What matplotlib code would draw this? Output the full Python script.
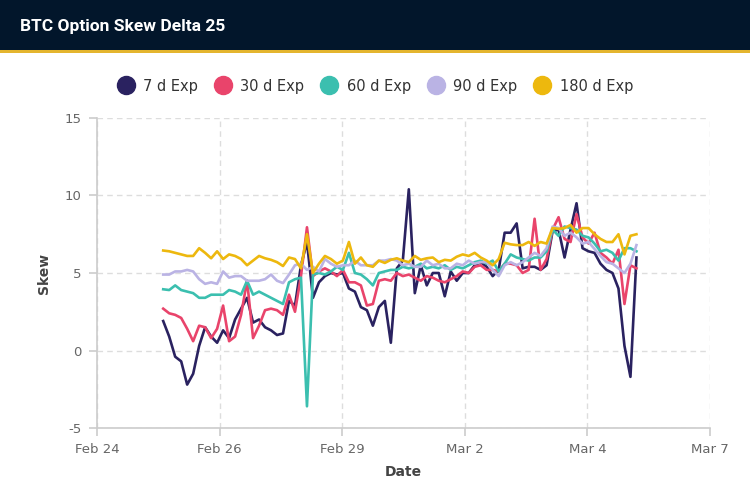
import numpy as np
import matplotlib
matplotlib.use("Agg")
import matplotlib.pyplot as plt
from matplotlib.lines import Line2D
from matplotlib.patches import Rectangle

plt.rcParams["axes.unicode_minus"] = False

# ---------------- data ----------------
tick_labels = ["Feb 24", "Feb 26", "Feb 29", "Mar 2", "Mar 4", "Mar 7"]
series_names = ["7 d Exp", "30 d Exp", "60 d Exp", "90 d Exp", "180 d Exp"]

# sample positions along the date axis (in tick-interval units, Feb 24 = 0)
t_start, t_end, n_samples = 0.54, 4.40, 80

skew_7d = [1.9, 0.9, -0.4, -0.7, -2.2, -1.5, 0.3, 1.5, 0.9, 0.5,
           1.3, 0.8, 2.0, 2.7, 3.4, 1.8, 2.0, 1.5, 1.3, 1.0,
           1.1, 3.2, 2.9, 5.5, 7.0, 3.4, 4.4, 4.8, 5.0, 4.9,
           5.0, 4.0, 3.8, 2.8, 2.6, 1.6, 2.8, 3.2, 0.5, 5.3,
           5.8, 10.4, 3.7, 5.5, 4.2, 5.0, 5.0, 3.5, 5.1, 4.5,
           5.0, 5.0, 5.5, 5.7, 5.4, 4.8, 5.2, 7.6, 7.6, 8.2,
           5.3, 5.4, 5.4, 5.2, 5.5, 7.7, 7.8, 6.0, 7.8, 9.5,
           6.6, 6.4, 6.3, 5.6, 5.2, 5.0, 4.0, 0.3, -1.7, 6.0]

skew_30d = [2.7, 2.4, 2.3, 2.1, 1.4, 0.6, 1.6, 1.5, 0.8, 1.4,
            2.9, 0.6, 0.9, 2.3, 4.5, 0.8, 1.6, 2.6, 2.7, 2.6,
            2.3, 3.6, 2.5, 4.8, 7.95, 4.8, 5.1, 5.3, 5.1, 4.8,
            5.2, 4.4, 4.4, 4.2, 2.9, 3.0, 4.5, 4.6, 4.5, 5.0,
            4.8, 4.9, 4.7, 4.5, 4.8, 4.7, 4.5, 4.4, 4.6, 4.8,
            5.1, 5.0, 5.4, 5.5, 5.2, 5.2, 5.1, 5.6, 5.6, 5.5,
            5.0, 5.2, 8.5, 5.2, 5.9, 7.8, 8.6, 7.2, 7.0, 8.8,
            7.3, 6.9, 7.6, 6.3, 6.0, 5.6, 6.5, 3.0, 5.5, 5.3]

skew_60d = [3.95, 3.9, 4.2, 3.9, 3.8, 3.7, 3.4, 3.4, 3.6, 3.6,
            3.6, 3.9, 3.8, 3.6, 4.5, 3.6, 3.8, 3.6, 3.4, 3.2,
            3.0, 4.4, 4.6, 4.7, -3.6, 4.9, 5.0, 4.9, 5.1, 5.4,
            5.2, 6.3, 5.0, 4.9, 4.6, 4.2, 5.0, 5.1, 5.2, 5.2,
            5.4, 5.3, 5.4, 5.6, 5.3, 5.4, 5.3, 5.5, 5.2, 5.4,
            5.3, 5.5, 5.7, 5.8, 5.6, 5.8, 5.1, 5.6, 6.2, 6.0,
            5.9, 5.8, 6.0, 6.0, 6.4, 7.8, 7.4, 8.0, 7.9, 7.8,
            7.4, 7.3, 6.9, 6.4, 6.5, 6.3, 5.8, 6.6, 6.6, 6.4]

skew_90d = [4.9, 4.9, 5.1, 5.1, 5.2, 5.1, 4.6, 4.3, 4.4, 4.3,
            5.1, 4.7, 4.8, 4.8, 4.5, 4.5, 4.5, 4.6, 4.9, 4.5,
            4.35, 4.9, 5.5, 5.6, 5.2, 5.4, 5.1, 5.9, 5.6, 5.4,
            5.5, 5.5, 5.8, 5.5, 5.5, 5.5, 5.8, 5.8, 5.9, 5.8,
            5.5, 5.6, 5.4, 5.4, 5.8, 5.5, 5.6, 5.3, 5.3, 5.6,
            5.5, 5.8, 5.6, 5.7, 5.7, 5.2, 4.8, 5.5, 5.7, 5.5,
            5.7, 6.0, 6.3, 6.1, 6.6, 8.0, 7.9, 7.4, 7.6, 7.3,
            6.9, 7.0, 6.55, 6.1, 5.7, 5.6, 5.3, 5.0, 5.6, 6.8]

skew_180d = [6.45, 6.4, 6.3, 6.2, 6.1, 6.1, 6.6, 6.3, 5.95, 6.4,
             5.9, 6.2, 6.1, 5.9, 5.5, 5.8, 6.1, 5.95, 5.85, 5.7,
             5.45, 6.0, 5.9, 5.3, 7.5, 5.0, 5.6, 6.1, 5.9, 5.6,
             5.8, 7.0, 5.6, 6.0, 5.5, 5.4, 5.8, 5.65, 5.85, 5.95,
             5.8, 5.7, 6.1, 5.85, 5.95, 6.0, 5.7, 5.85, 5.8, 6.05,
             6.2, 6.1, 6.3, 6.0, 5.8, 5.5, 5.9, 6.95, 6.85, 6.8,
             6.8, 7.0, 6.75, 7.0, 6.9, 7.9, 7.85, 7.9, 8.1, 7.6,
             7.9, 7.9, 7.5, 7.2, 7.0, 7.0, 7.5, 6.2, 7.4, 7.5]

colors = ["#2A2260", "#E9446B", "#3BBFAF", "#BAB3E4", "#EDB80E"]

# ---------------- figure ----------------
W, H = 750, 486
fig = plt.figure(figsize=(W / 100, H / 100), dpi=100)
fig.patch.set_facecolor("white")

# header band
fig.patches.append(Rectangle((0, 1 - 50 / H), 1, 50 / H, transform=fig.transFigure,
                             facecolor="#02162B", edgecolor="none", zorder=0))
fig.patches.append(Rectangle((0, 1 - 53 / H), 1, 3 / H, transform=fig.transFigure,
                             facecolor="#E4B52F", edgecolor="none", zorder=0))
fig.text(20 / W, 1 - 26 / H, "BTC Option Skew Delta 25", color="white",
         fontsize=12.5, fontweight="bold", family="Roboto", va="center", ha="left")

ax = fig.add_axes([97 / W, 1 - 428 / H, (710 - 97) / W, (428 - 118) / H])

t = np.linspace(t_start, t_end, n_samples)
all_series = [skew_7d, skew_30d, skew_60d, skew_90d, skew_180d]
for vals, c, name in zip(all_series, colors, series_names):
    ax.plot(t, vals, color=c, lw=1.9, label=name, solid_joinstyle="round")

ax.set_xlim(0, 5)
ax.set_ylim(-5, 15)
ax.set_xticks(range(len(tick_labels)))
ax.set_xticklabels(tick_labels)
ax.set_yticks([-5, 0, 5, 10, 15])

ax.grid(True, color="#DDDDDD", linestyle=(0, (4, 3)), linewidth=1.0)
ax.set_axisbelow(True)
for s in ["top", "right"]:
    ax.spines[s].set_visible(False)
for s in ["left", "bottom"]:
    ax.spines[s].set_color("#CCCCCC")
    ax.spines[s].set_linewidth(1.2)
ax.tick_params(axis="both", colors="#CCCCCC", length=6, width=1.2,
               labelcolor="#666666", labelsize=9.5, pad=5)

ax.set_xlabel("Date", fontsize=10, fontweight="bold", color="#444444", labelpad=6)
ax.set_ylabel("Skew", fontsize=10, fontweight="bold", color="#444444", labelpad=10)

handles = [Line2D([0], [0], marker="o", linestyle="none", markersize=13,
                  markerfacecolor=c, markeredgecolor=c) for c in colors]
fig.legend(handles, series_names, loc="center", bbox_to_anchor=(375 / W, 1 - 86 / H),
           ncol=5, frameon=False, fontsize=10.5, handletextpad=0.6,
           columnspacing=1.1, handlelength=1.2, labelcolor="#333333")

fig.savefig("out.png", dpi=100)
